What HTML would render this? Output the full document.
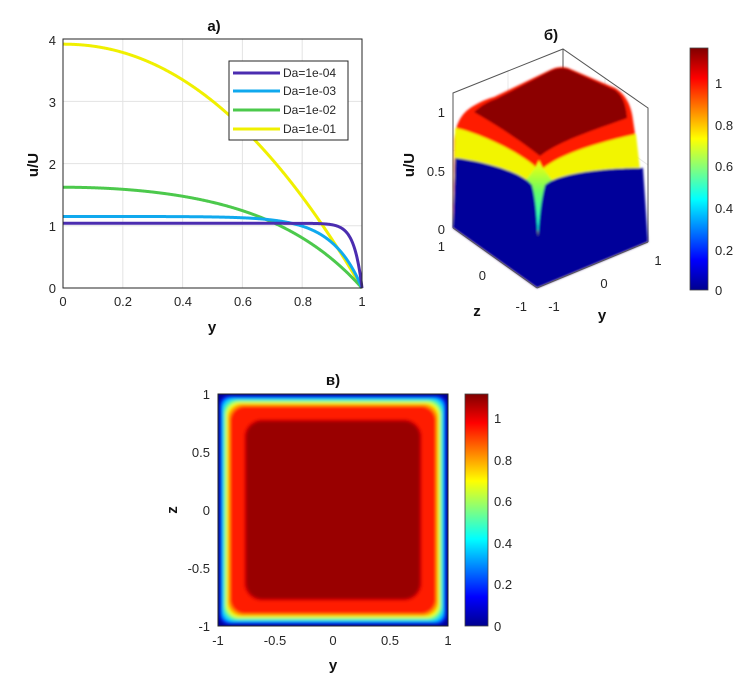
<!DOCTYPE html>
<html><head><meta charset="utf-8"><style>
html,body{margin:0;padding:0;background:#fff;}
svg{display:block;font-family:"Liberation Sans",Arial,sans-serif;}
.t{font-size:13px;fill:#262626;}
.b{font-weight:bold;font-size:15px;fill:#111;}
</style></head><body>
<svg id="s" width="756" height="679" viewBox="0 0 756 679" xmlns="http://www.w3.org/2000/svg">
<defs>
<linearGradient id="jet" x1="0" y1="1" x2="0" y2="0">
<stop offset="0" stop-color="#00008f"/><stop offset="0.125" stop-color="#0000ff"/>
<stop offset="0.375" stop-color="#00ffff"/><stop offset="0.625" stop-color="#ffff00"/>
<stop offset="0.875" stop-color="#ff0000"/><stop offset="1" stop-color="#800000"/>
</linearGradient>
<linearGradient id="spike" x1="0" y1="0" x2="0" y2="1">
<stop offset="0" stop-color="#ffff00"/><stop offset="0.4" stop-color="#66ff66"/><stop offset="1" stop-color="#00ffff"/>
</linearGradient>
<filter id="bl"><feGaussianBlur stdDeviation="1.6"/></filter>
<filter id="bl2"><feGaussianBlur stdDeviation="1"/></filter>
<clipPath id="cc"><rect x="218" y="394" width="230" height="232"/></clipPath>
</defs>

<!-- Plot a -->
<rect x="63" y="39" width="299" height="249" fill="#fff" stroke="#262626" stroke-width="1"/>
<g stroke="#e3e3e3" stroke-width="1" id="grid"></g>
<g id="curves" fill="none" stroke-width="3"></g>
<rect x="63" y="39" width="299" height="249" fill="none" stroke="#262626" stroke-width="1"/>
<g class="t" text-anchor="end">
<text x="56" y="293">0</text><text x="56" y="231">1</text><text x="56" y="169">2</text><text x="56" y="107">3</text><text x="56" y="45">4</text>
</g>
<g class="t" text-anchor="middle">
<text x="63" y="306">0</text><text x="123" y="306">0.2</text><text x="183" y="306">0.4</text><text x="243" y="306">0.6</text><text x="303" y="306">0.8</text><text x="362" y="306">1</text>
</g>
<text class="b" x="212" y="332" text-anchor="middle">y</text>
<text class="b" x="214" y="31" text-anchor="middle">а)</text>
<text class="b" transform="translate(38,165) rotate(-90)" text-anchor="middle">u/U</text>
<rect x="229" y="61" width="119" height="79" fill="#fff" stroke="#262626"/>
<g stroke-width="3">
<line x1="233" y1="73" x2="280" y2="73" stroke="#4b2db0"/>
<line x1="233" y1="91" x2="280" y2="91" stroke="#10a9ee"/>
<line x1="233" y1="110" x2="280" y2="110" stroke="#4cc94c"/>
<line x1="233" y1="129" x2="280" y2="129" stroke="#f0f000"/>
</g>
<g class="t" font-size="12">
<text x="283" y="77" font-size="12">Da=1e-04</text>
<text x="283" y="95" font-size="12">Da=1e-03</text>
<text x="283" y="114" font-size="12">Da=1e-02</text>
<text x="283" y="133" font-size="12">Da=1e-01</text>
</g>

<!-- Plot b -->
<g stroke="#e8e8e8" stroke-width="1">
<line x1="453" y1="151" x2="563" y2="104"/><line x1="563" y1="104" x2="648" y2="165"/>
<line x1="508" y1="71" x2="508" y2="160"/><line x1="605" y1="78" x2="605" y2="160"/>
</g>
<g stroke="#555" stroke-width="1" fill="none">
<polyline points="453,228 453,93 563,49 648,108 648,242"/>
<line x1="563" y1="49" x2="563" y2="70"/>
</g>
<g filter="url(#bl2)">
<path d="M453,228 L454,140 C456,122 462,112 475,105 C482,101 487,99 494,97 L550,70 C556,67 562,66 568,68 L615,88 C625,94 631,104 633,120 L636,140 L648,242 L537,288 Z" fill="#ff1a00"/>
<path d="M474,112 C481,106 487,102 496,99 L550,71 C556,68 562,67 568,69 L615,90 C622,95 626,104 627,118 C600,128 560,140 540,156 C520,140 495,124 474,112 Z" fill="#8c0000"/>
<path d="M455,128 C470,130 520,150 540,171 C560,152 610,140 636,134 L648,242 L537,288 L453,228 Z" fill="#f2f500"/>
<path d="M526,180 C533,172 537,165 539,160 C541,165 545,172 552,180 L540,240 Z" fill="url(#spike)"/>
<path d="M453,228 L455,158 C475,160 520,170 532,185 C536,200 537,220 538,237 C539,220 541,200 545,185 C560,172 610,168 643,168 L648,242 L537,288 Z" fill="#00009a"/>
</g>
<g stroke="#555" stroke-width="1" fill="none">
<line x1="453" y1="228" x2="537" y2="288"/><line x1="537" y1="288" x2="648" y2="242"/>
</g>
<g class="t" text-anchor="end">
<text x="445" y="117">1</text><text x="445" y="176">0.5</text><text x="445" y="234">0</text>
<text x="445" y="251">1</text><text x="486" y="280">0</text><text x="527" y="311">-1</text>
</g>
<g class="t" text-anchor="middle">
<text x="554" y="311">-1</text><text x="604" y="288">0</text><text x="658" y="265">1</text>
</g>
<text class="b" x="477" y="316" text-anchor="middle">z</text>
<text class="b" x="602" y="320" text-anchor="middle">y</text>
<text class="b" x="551" y="40" text-anchor="middle">б)</text>
<text class="b" transform="translate(414,165) rotate(-90)" text-anchor="middle">u/U</text>
<rect x="690" y="48" width="18" height="242" fill="url(#jet)" stroke="#444" stroke-width="0.8"/>
<g class="t">
<text x="715" y="88">1</text><text x="715" y="130">0.8</text><text x="715" y="171">0.6</text><text x="715" y="213">0.4</text><text x="715" y="255">0.2</text><text x="715" y="295">0</text>
</g>

<!-- Plot c -->
<g clip-path="url(#cc)">
<rect x="210" y="386" width="246" height="248" fill="#00009a"/>
<g filter="url(#bl)">
<rect x="220" y="396" width="226" height="228" rx="8" fill="#0033ff"/>
<rect x="222" y="398" width="222" height="224" rx="10" fill="#00ccff"/>
<rect x="224" y="400" width="218" height="220" rx="12" fill="#55ff88"/>
<rect x="226" y="402" width="214" height="216" rx="13" fill="#eeff00"/>
<rect x="228" y="404" width="210" height="212" rx="14" fill="#ff9900"/>
<rect x="230" y="406" width="206" height="208" rx="15" fill="#ff1a00"/>
<rect x="244" y="419" width="178" height="182" rx="18" fill="#e00000"/>
<rect x="246" y="421" width="174" height="178" rx="16" fill="#990000"/>
</g>
</g>
<rect x="218" y="394" width="230" height="232" fill="none" stroke="#262626"/>
<g class="t" text-anchor="end">
<text x="210" y="399">1</text><text x="210" y="457">0.5</text><text x="210" y="515">0</text><text x="210" y="573">-0.5</text><text x="210" y="631">-1</text>
</g>
<g class="t" text-anchor="middle">
<text x="218" y="645">-1</text><text x="275" y="645">-0.5</text><text x="333" y="645">0</text><text x="390" y="645">0.5</text><text x="448" y="645">1</text>
</g>
<text class="b" x="333" y="670" text-anchor="middle">y</text>
<text class="b" x="333" y="385" text-anchor="middle">в)</text>
<text class="b" transform="translate(177,510) rotate(-90)" text-anchor="middle">z</text>
<rect x="465" y="394" width="23" height="232" fill="url(#jet)" stroke="#444" stroke-width="0.8"/>
<g class="t">
<text x="494" y="423">1</text><text x="494" y="465">0.8</text><text x="494" y="506">0.6</text><text x="494" y="548">0.4</text><text x="494" y="589">0.2</text><text x="494" y="631">0</text>
</g>
</svg>
<script>
(function(){
var NS="http://www.w3.org/2000/svg";
function X(v){return 63+v*299;} function Y(v){return 288-v*62.2;}
var g=document.getElementById('grid');
function ln(p,x1,y1,x2,y2){var l=document.createElementNS(NS,'line');l.setAttribute('x1',x1);l.setAttribute('y1',y1);l.setAttribute('x2',x2);l.setAttribute('y2',y2);p.appendChild(l);}
for(var i=1;i<5;i++)ln(g,X(i*0.2),39,X(i*0.2),288);
for(var j=1;j<4;j++)ln(g,63,Y(j),362,Y(j));
var c=document.getElementById('curves');
function br(k,u0){var A=u0/(1-1/Math.cosh(k));return function(y){return A*(1-Math.cosh(k*y)/Math.cosh(k));};}
var fs=[[function(y){return 3.92*(1-Math.pow(y,2.1));},'#f0f000'],[br(3.0,1.62),'#4cc94c'],[br(10,1.15),'#10a9ee'],[br(38,1.04),'#4b2db0']];
fs.forEach(function(f){var d='';for(var i=0;i<=600;i++){var y=i/600;d+=(i?'L':'M')+X(y).toFixed(2)+','+Y(f[0](y)).toFixed(2);}
var p=document.createElementNS(NS,'path');p.setAttribute('d',d);p.setAttribute('stroke',f[1]);c.appendChild(p);});
})();
</script>
</body></html>
